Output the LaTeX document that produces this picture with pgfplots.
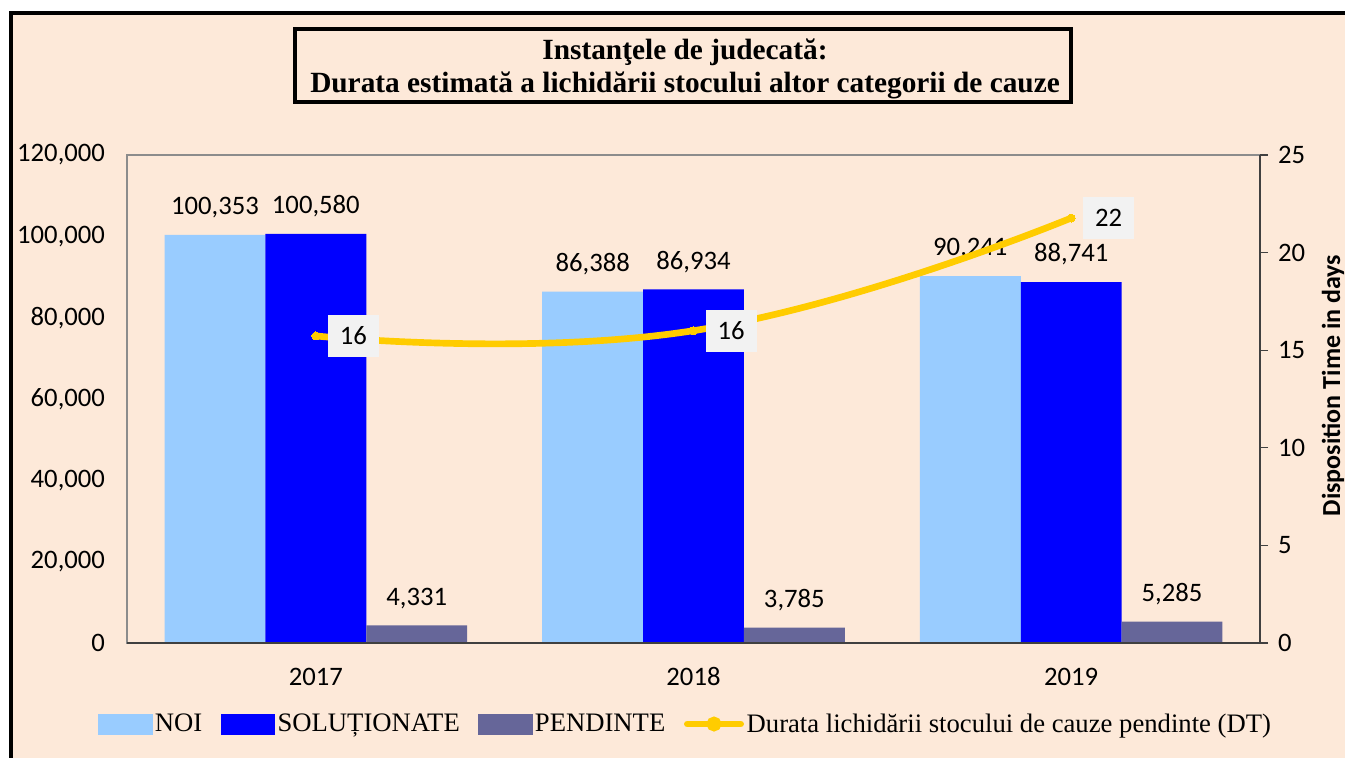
\documentclass[border=0pt]{standalone}
\usepackage{fontspec}
\setmainfont{Liberation Serif}
\newfontfamily\calib{Carlito}
\usepackage{pgfplots}
\pgfplotsset{compat=1.18}
\definecolor{bg}{HTML}{FDE9D9}
\definecolor{noi}{HTML}{99CCFF}
\definecolor{sol}{HTML}{0000FF}
\definecolor{pen}{HTML}{666699}
\definecolor{dt}{HTML}{FFCC00}
\definecolor{lblbox}{HTML}{F2F2F2}
\newcommand{\tickfont}{\calib\fontsize{20}{23}\selectfont}
\begin{document}
\begin{tikzpicture}
\begin{scope}[x=0.75pt,y=0.75pt]
\fill[white] (0,0) rectangle (1345,758);
\fill[bg] (9,0) rectangle (1345,747);
\fill[black] (9,0) rectangle (13,747);
\fill[black] (9,743) rectangle (1345,747);
\draw[line width=3.3pt, fill=bg] (295,729) rectangle (1071,656);
\node[font=\bfseries\fontsize{22}{25}\selectfont] at (685,706) {Instanţele de judecată:};
\node[font=\bfseries\fontsize{22}{25}\selectfont] at (685,673) {Durata estimată a lichidării stocului altor categorii de cauze};
\end{scope}

\begin{axis}[
  at={(95.25pt,86.25pt)}, anchor=south west,
  scale only axis, width=849.75pt, height=366pt,
  xmin=-0.5, xmax=2.5, ymin=0, ymax=120000,
  ytick={0,20000,40000,60000,80000,100000,120000},
  xtick={0,1,2}, xticklabels={2017,2018,2019},
  ybar=0pt, bar width=0.267,
  major tick length=0pt,
  axis line style={draw=gray!90, line width=1.2pt},
  scaled y ticks=false,
  /pgf/number format/fixed,
  /pgf/number format/precision=0,
  /pgf/number format/1000 sep={,},
  /pgf/number format/assume math mode=true,
  tick label style={font=\tickfont, black},
  yticklabel style={xshift=-13pt},
  xticklabel style={yshift=-15pt},
  nodes near coords,
  every node near coord/.append style={font=\tickfont, black, yshift=9pt},
]
\addplot[fill=noi, draw=none] coordinates {(0,100353) (1,86388) (2,90241)};
\addplot[fill=sol, draw=none] coordinates {(0,100580) (1,86934) (2,88741)};
\addplot[fill=pen, draw=none] coordinates {(0,4331) (1,3785) (2,5285)};
\draw[black!75, line width=1.3pt] (rel axis cs:0,0) -- (rel axis cs:1,0);
\end{axis}

\begin{axis}[
  at={(95.25pt,86.25pt)}, anchor=south west,
  scale only axis, width=849.75pt, height=366pt,
  xmin=-0.5, xmax=2.5, ymin=0, ymax=25,
  ytick={0,5,10,15,20,25},
  axis y line*=right, axis x line=none,
  tick align=outside, major tick length=6pt,
  ytick style={black!75, line width=1pt},
  axis line style={black!75, line width=1.3pt},
  /pgf/number format/fixed,
  /pgf/number format/precision=0,
  /pgf/number format/assume math mode=true,
  tick label style={font=\tickfont, black},
  yticklabel style={xshift=4pt},
  legend style={at={(0.4934,-0.166)}, anchor=center, draw=none, fill=none,
    font=\fontsize{20}{24}\selectfont, legend columns=4,
    /tikz/every even column/.append style={column sep=12pt},
    nodes={inner xsep=2pt}},
  legend cell align=left,
]
\addlegendimage{legend image code/.code={\fill[noi] (0pt,-7.5pt) rectangle (40pt,7.5pt);}}
\addlegendentry{NOI}
\addlegendimage{legend image code/.code={\fill[sol] (0pt,-7.5pt) rectangle (40pt,7.5pt);}}
\addlegendentry{SOLUȚIONATE}
\addlegendimage{legend image code/.code={\fill[pen] (0pt,-7.5pt) rectangle (40pt,7.5pt);}}
\addlegendentry{PENDINTE}
\addplot[dt, line width=5pt, smooth, tension=0.8, line cap=round, mark=*, mark size=3pt,
  mark options={fill=dt, draw=dt, line width=0pt},
  legend image code/.code={\draw[dt, line width=5pt, line cap=round] (0pt,0pt) -- (40pt,0pt); \fill[dt] (20pt,0pt) circle (3pt);},
  nodes near coords, point meta=y,
  every node near coord/.append style={font=\tickfont, black, anchor=west, fill=lblbox,
    xshift=9pt, inner xsep=9pt, inner ysep=9pt}]
  coordinates {(0,15.73) (1,16.0) (2,21.77)};
\addlegendentry{Durata lichidării stocului de cauze pendinte (DT)}
\end{axis}

\begin{scope}[x=0.75pt,y=0.75pt]
\node[rotate=90, font=\calib\bfseries\fontsize{19.5}{23}\selectfont, inner sep=0pt] at (1333,372.5) {Disposition Time in days};
\end{scope}
\pgfresetboundingbox
\path[use as bounding box] (0,0) rectangle (1008.75pt,568.5pt);
\end{tikzpicture}
\end{document}
